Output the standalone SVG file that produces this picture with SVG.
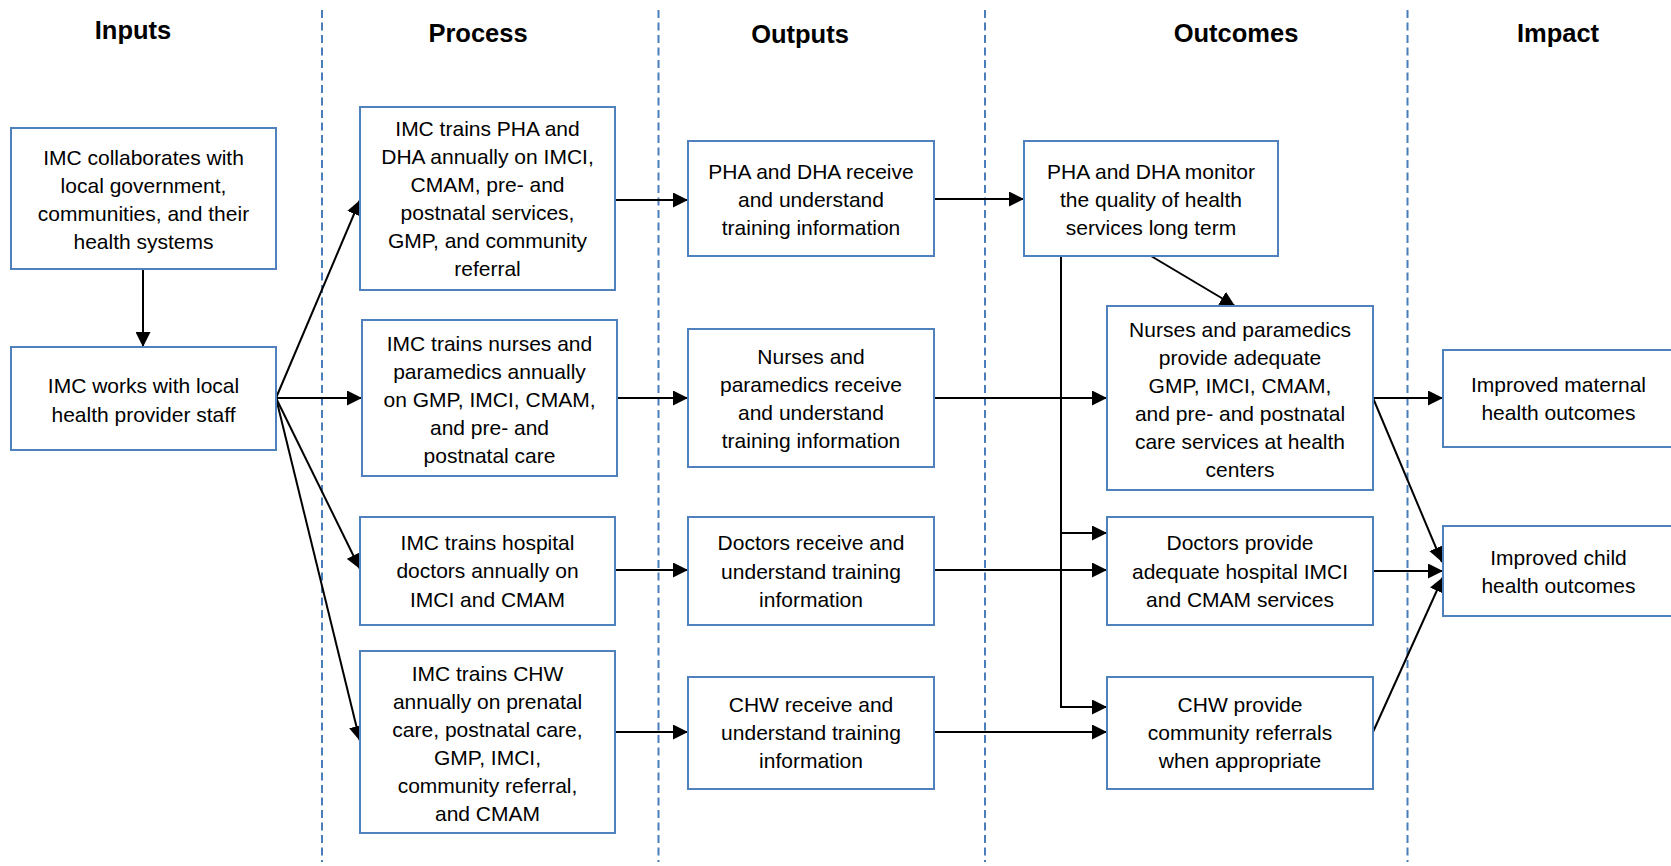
<svg xmlns="http://www.w3.org/2000/svg" width="1671" height="866" viewBox="0 0 1671 866">
<style>
.hdr{font-family:"Liberation Sans",Arial,sans-serif;font-weight:bold;font-size:25.5px;fill:#000;text-anchor:middle}
.box{fill:#fff;stroke:#4f81bd;stroke-width:2}
.t{font-family:"Liberation Sans",Arial,sans-serif;font-size:21px;fill:#000;text-anchor:middle}
.sep{stroke:#4a7ebb;stroke-width:2;stroke-dasharray:8 4.5;fill:none}
.c{stroke:#000;stroke-width:2;fill:none}
.a{marker-end:url(#ah)}
</style>
<defs>
<marker id="ah" viewBox="0 0 15 15" refX="15" refY="7.5" markerWidth="15" markerHeight="15" orient="auto" markerUnits="userSpaceOnUse">
<path d="M0,0 L15,7.5 L0,15 z" fill="#000"/>
</marker>
</defs>
<rect width="1671" height="866" fill="#fff"/>

<g id="separators">
<line class="sep" x1="322" y1="10" x2="322" y2="862"/>
<line class="sep" x1="658.5" y1="10" x2="658.5" y2="862"/>
<line class="sep" x1="985" y1="10" x2="985" y2="862"/>
<line class="sep" x1="1407.5" y1="10" x2="1407.5" y2="862"/>
</g>

<g id="headers">
<text class="hdr" x="133" y="39">Inputs</text>
<text class="hdr" x="478" y="42">Process</text>
<text class="hdr" x="800" y="43">Outputs</text>
<text class="hdr" x="1236" y="42">Outcomes</text>
<text class="hdr" x="1558" y="42">Impact</text>
</g>

<g id="connectors">
<path class="c a" d="M143,269 L143,347"/>
<path class="c a" d="M276,398 L360,200"/>
<path class="c a" d="M276,398 L362,398"/>
<path class="c a" d="M276,398 L360,569"/>
<path class="c a" d="M276,398 L360,741"/>
<path class="c a" d="M615,200 L688,200"/>
<path class="c a" d="M617,398 L688,398"/>
<path class="c a" d="M615,570 L688,570"/>
<path class="c a" d="M615,732 L688,732"/>
<path class="c a" d="M934,199 L1024,199"/>
<path class="c a" d="M934,398 L1107,398"/>
<path class="c a" d="M934,570 L1107,570"/>
<path class="c a" d="M934,732 L1107,732"/>
<path class="c a" d="M1061,256 L1061,707 L1107,707"/>
<path class="c a" d="M1061,533 L1107,533"/>
<path class="c a" d="M1151,256 L1235,306"/>
<path class="c a" d="M1373,398 L1443,398"/>
<path class="c a" d="M1373,398 L1442,562"/>
<path class="c a" d="M1373,571 L1443,571"/>
<path class="c a" d="M1373,732 L1443,577"/>
</g>

<g id="in1">
<rect class="box" x="11" y="128" width="265" height="141"/>
<text class="t" x="143.5" y="165">IMC collaborates with</text>
<text class="t" x="143.5" y="193">local government,</text>
<text class="t" x="143.5" y="221">communities, and their</text>
<text class="t" x="143.5" y="249">health systems</text>
</g>
<g id="in2">
<rect class="box" x="11" y="347" width="265" height="103"/>
<text class="t" x="143.5" y="393">IMC works with local</text>
<text class="t" x="143.5" y="421.5">health provider staff</text>
</g>

<g id="p1">
<rect class="box" x="360" y="107" width="255" height="183"/>
<text class="t" x="487.5" y="136">IMC trains PHA and</text>
<text class="t" x="487.5" y="164">DHA annually on IMCI,</text>
<text class="t" x="487.5" y="192">CMAM, pre- and</text>
<text class="t" x="487.5" y="220">postnatal services,</text>
<text class="t" x="487.5" y="248">GMP, and community</text>
<text class="t" x="487.5" y="276">referral</text>
</g>
<g id="p2">
<rect class="box" x="362" y="320" width="255" height="156"/>
<text class="t" x="489.5" y="350.5">IMC trains nurses and</text>
<text class="t" x="489.5" y="378.5">paramedics annually</text>
<text class="t" x="489.5" y="406.5">on GMP, IMCI, CMAM,</text>
<text class="t" x="489.5" y="434.5">and pre- and</text>
<text class="t" x="489.5" y="462.5">postnatal care</text>
</g>
<g id="p3">
<rect class="box" x="360" y="517" width="255" height="108"/>
<text class="t" x="487.5" y="550">IMC trains hospital</text>
<text class="t" x="487.5" y="578">doctors annually on</text>
<text class="t" x="487.5" y="606.5">IMCI and CMAM</text>
</g>
<g id="p4">
<rect class="box" x="360" y="651" width="255" height="182"/>
<text class="t" x="487.5" y="681">IMC trains CHW</text>
<text class="t" x="487.5" y="709">annually on prenatal</text>
<text class="t" x="487.5" y="737">care, postnatal care,</text>
<text class="t" x="487.5" y="765">GMP, IMCI,</text>
<text class="t" x="487.5" y="793">community referral,</text>
<text class="t" x="487.5" y="821">and CMAM</text>
</g>

<g id="o1">
<rect class="box" x="688" y="141" width="246" height="115"/>
<text class="t" x="811" y="178.5">PHA and DHA receive</text>
<text class="t" x="811" y="206.5">and understand</text>
<text class="t" x="811" y="235">training information</text>
</g>
<g id="o2">
<rect class="box" x="688" y="329" width="246" height="138"/>
<text class="t" x="811" y="363.5">Nurses and</text>
<text class="t" x="811" y="392">paramedics receive</text>
<text class="t" x="811" y="420">and understand</text>
<text class="t" x="811" y="448">training information</text>
</g>
<g id="o3">
<rect class="box" x="688" y="517" width="246" height="108"/>
<text class="t" x="811" y="550">Doctors receive and</text>
<text class="t" x="811" y="578.5">understand training</text>
<text class="t" x="811" y="607">information</text>
</g>
<g id="o4">
<rect class="box" x="688" y="677" width="246" height="112"/>
<text class="t" x="811" y="711.5">CHW receive and</text>
<text class="t" x="811" y="740">understand training</text>
<text class="t" x="811" y="768">information</text>
</g>

<g id="oc1">
<rect class="box" x="1024" y="141" width="254" height="115"/>
<text class="t" x="1151" y="178.5">PHA and DHA monitor</text>
<text class="t" x="1151" y="206.5">the quality of health</text>
<text class="t" x="1151" y="235">services long term</text>
</g>
<g id="oc2">
<rect class="box" x="1107" y="306" width="266" height="184"/>
<text class="t" x="1240" y="336.5">Nurses and paramedics</text>
<text class="t" x="1240" y="364.5">provide adequate</text>
<text class="t" x="1240" y="392.5">GMP, IMCI, CMAM,</text>
<text class="t" x="1240" y="420.5">and pre- and postnatal</text>
<text class="t" x="1240" y="448.5">care services at health</text>
<text class="t" x="1240" y="476.5">centers</text>
</g>
<g id="oc3">
<rect class="box" x="1107" y="517" width="266" height="108"/>
<text class="t" x="1240" y="550">Doctors provide</text>
<text class="t" x="1240" y="578.5">adequate hospital IMCI</text>
<text class="t" x="1240" y="607">and CMAM services</text>
</g>
<g id="oc4">
<rect class="box" x="1107" y="677" width="266" height="112"/>
<text class="t" x="1240" y="712">CHW provide</text>
<text class="t" x="1240" y="740">community referrals</text>
<text class="t" x="1240" y="768">when appropriate</text>
</g>

<g id="im1">
<rect class="box" x="1443" y="350" width="240" height="97"/>
<text class="t" x="1558.5" y="392">Improved maternal</text>
<text class="t" x="1558.5" y="420">health outcomes</text>
</g>
<g id="im2">
<rect class="box" x="1443" y="526" width="240" height="90"/>
<text class="t" x="1558.5" y="565">Improved child</text>
<text class="t" x="1558.5" y="592.5">health outcomes</text>
</g>
</svg>
